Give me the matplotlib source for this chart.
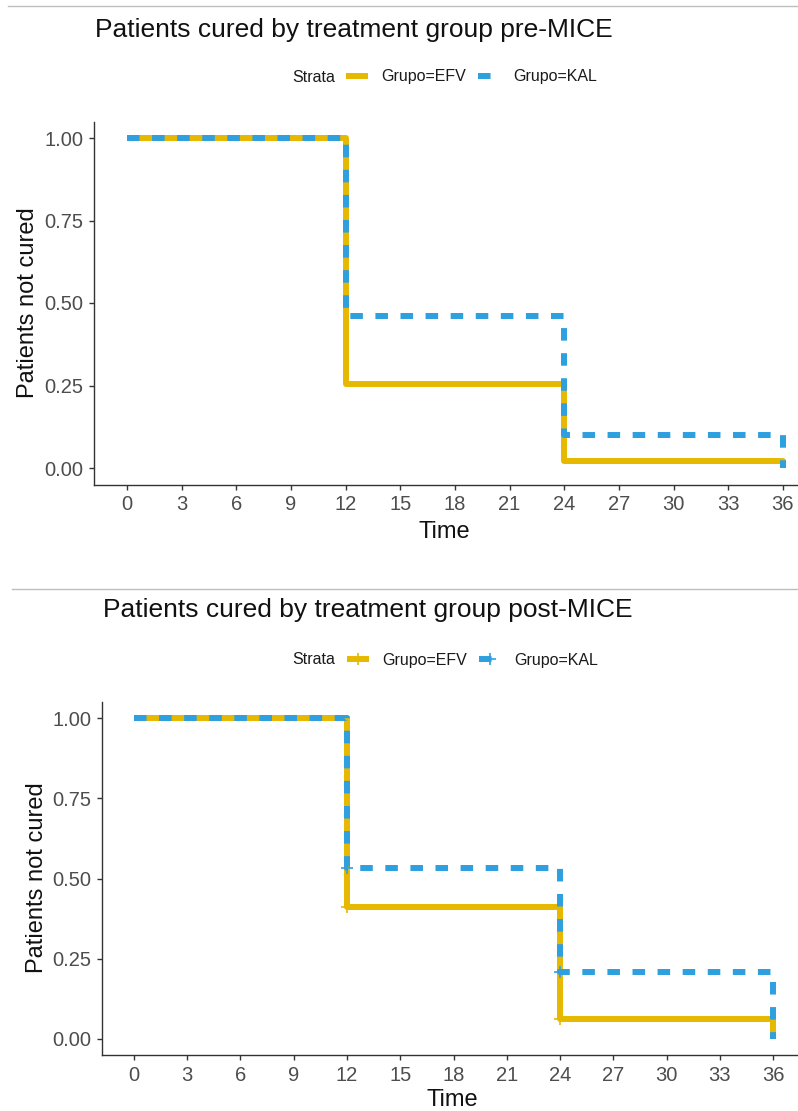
import matplotlib
matplotlib.use("Agg")
import matplotlib.pyplot as plt
from matplotlib.lines import Line2D

plt.rcParams['font.family'] = ['Liberation Sans', 'DejaVu Sans']

# Kaplan-Meier style step estimates (proportion not cured)
time_pts = [0, 12, 24, 36]
pre_efv = [1.0, 0.255, 0.02, 0.0]
pre_kal = [1.0, 0.46, 0.10, 0.0]
post_efv = [1.0, 0.41, 0.062, 0.0]
post_kal = [1.0, 0.533, 0.209, 0.0]

# censoring marks (post-MICE only)
cens_time = [12, 24]
cens_efv = [0.41, 0.062]
cens_kal = [0.533, 0.209]

x_ticks = list(range(0, 37, 3))
y_ticks = [0.0, 0.25, 0.5, 0.75, 1.0]

titles = ["Patients cured by treatment group pre-MICE",
          "Patients cured by treatment group post-MICE"]
groups = ["Grupo=EFV", "Grupo=KAL"]

EFV_COL = "#E7B800"
KAL_COL = "#2E9FDF"
AX_COL = "#333333"
LW = 4.3
DASH = (2.1, 2.1)

W, H = 798, 1111
fig = plt.figure(figsize=(W / 100, H / 100), dpi=100)


def rect(l, r, t, b):
    return [l / W, 1 - b / H, (r - l) / W, (b - t) / H]


def fx(px):
    return px / W


def fy(py):
    return 1 - py / H


def draw_panel(box, efv, kal, censored):
    ax = fig.add_axes(rect(*box))
    ax.plot(time_pts, efv, drawstyle='steps-post', color=EFV_COL, lw=LW,
            solid_capstyle='butt')
    ax.plot(time_pts, kal, drawstyle='steps-post', color=KAL_COL, lw=LW,
            dashes=DASH, dash_capstyle='butt')
    if censored:
        ax.plot(cens_time, cens_efv, ls='none', marker='+', ms=9, mew=1.2,
                color=EFV_COL)
        ax.plot(cens_time, cens_kal, ls='none', marker='+', ms=9, mew=1.2,
                color=KAL_COL)
    ax.set_xlim(-1.8, 37.8)
    ax.set_ylim(-0.05, 1.05)
    ax.set_xticks(x_ticks)
    ax.set_yticks(y_ticks)
    ax.set_yticklabels([f"{v:.2f}" for v in y_ticks])
    for s in ['top', 'right']:
        ax.spines[s].set_visible(False)
    for s in ['left', 'bottom']:
        ax.spines[s].set_color(AX_COL)
        ax.spines[s].set_linewidth(1.0)
    ax.tick_params(direction='out', length=3.6, width=1.0, color=AX_COL,
                   labelsize=14.5, labelcolor='#4D4D4D', pad=4)
    for lab in ax.get_xticklabels() + ax.get_yticklabels():
        lab.set_clip_on(False)
    return ax


def draw_legend(y, x_strata, x_handle, censored):
    fig.text(fx(x_strata), fy(y), "Strata", fontsize=11.5, color='#1a1a1a',
             ha='left', va='center')
    mk = '+' if censored else 'None'
    handles = [
        Line2D([], [], color=EFV_COL, lw=LW, marker=mk, ms=9, mew=1.2,
               solid_capstyle='butt'),
        Line2D([], [], color=KAL_COL, lw=LW, dashes=DASH, marker=mk, ms=9,
               mew=1.2, dash_capstyle='butt'),
    ]
    fig.legend(handles, groups, ncol=2, loc='center left',
               bbox_to_anchor=(fx(x_handle), fy(y)), frameon=False,
               fontsize=11.5, handlelength=1.4, handletextpad=0.8,
               columnspacing=0.75, borderpad=0, borderaxespad=0,
               labelcolor='#1a1a1a')


# separator rules between the two panels
fig.add_artist(Line2D([fx(8), 1], [fy(6), fy(6)], color='#bdbdbd', lw=1))
fig.add_artist(Line2D([fx(12), 1], [fy(589), fy(589)], color='#bdbdbd', lw=1))

# top panel: pre-MICE
fig.text(fx(95), fy(30), titles[0], fontsize=19, ha='left', va='center',
         color='#111111')
draw_legend(77, 292, 346, False)
draw_panel((94.2, 815.7, 121.5, 484.5), pre_efv, pre_kal, False)
fig.text(fx(28), fy(303), "Patients not cured", fontsize=17, rotation=90,
         ha='center', va='center', color='#111111')
fig.text(fx(444), fy(532), "Time", fontsize=17, ha='center', va='center',
         color='#111111')

# bottom panel: post-MICE
fig.text(fx(103), fy(610), titles[1], fontsize=19, ha='left', va='center',
         color='#111111')
draw_legend(660, 292, 347, True)
draw_panel((102, 805, 702, 1055), post_efv, post_kal, True)
fig.text(fx(37), fy(878), "Patients not cured", fontsize=17, rotation=90,
         ha='center', va='center', color='#111111')
fig.text(fx(452), fy(1100), "Time", fontsize=17, ha='center', va='center',
         color='#111111')

fig.savefig("out.png", dpi=100)
